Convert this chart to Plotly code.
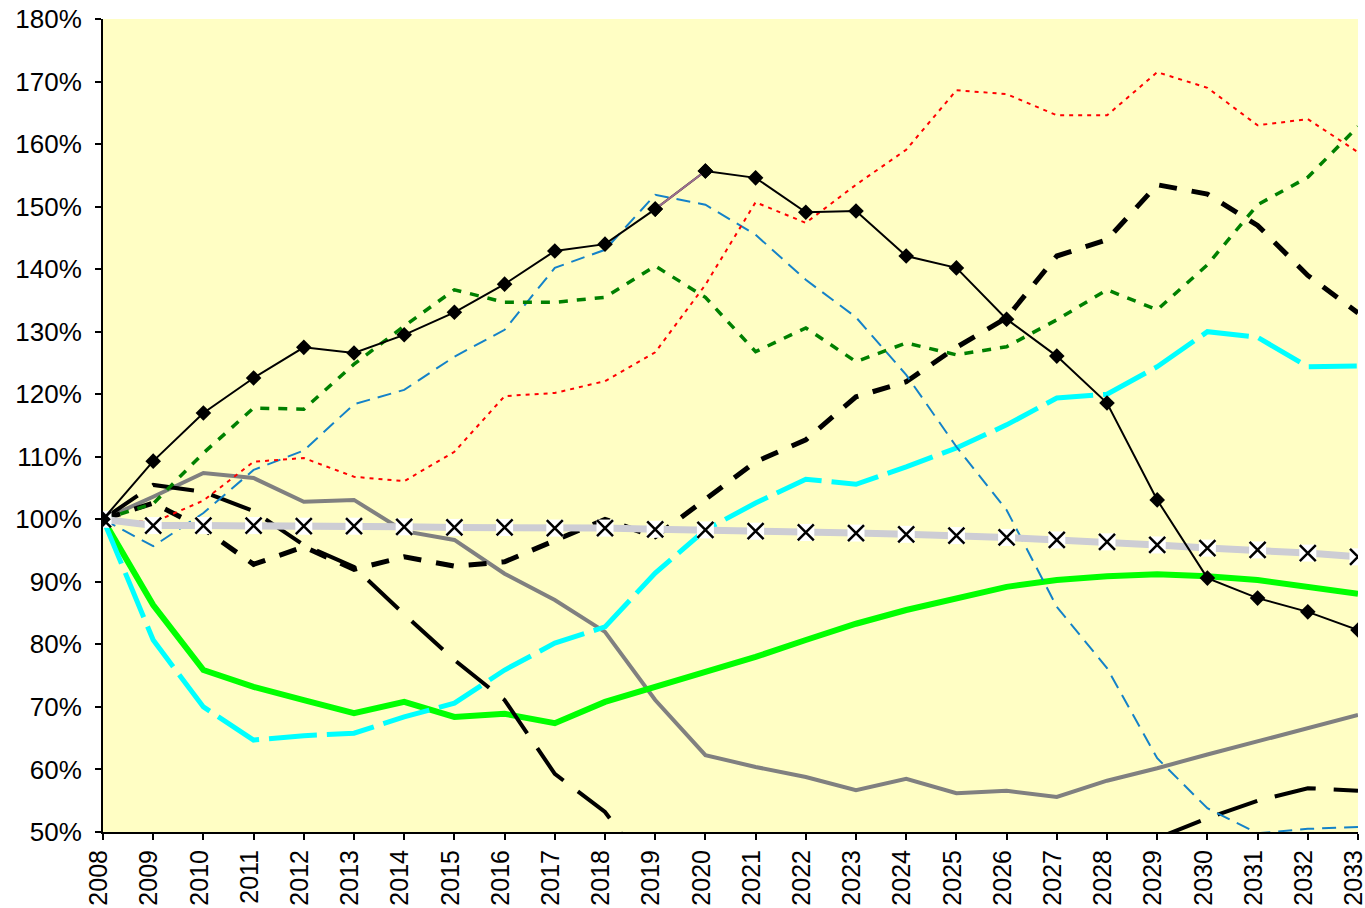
import plotly.graph_objects as go

years = [2008, 2009, 2010, 2011, 2012, 2013, 2014, 2015, 2016, 2017, 2018, 2019, 2020,
         2021, 2022, 2023, 2024, 2025, 2026, 2027, 2028, 2029, 2030, 2031, 2032, 2033]

s_diamond = [100, 109.3, 117.0, 122.6, 127.5, 126.6, 129.5, 133.1, 137.6, 142.9, 144.0, 149.6, 155.7,
             154.6, 149.1, 149.3, 142.1, 140.2, 132.0, 126.1, 118.6, 103.1, 90.6, 87.4, 85.2, 82.3]
s_green_dash = [100, 102.5, 110.6, 117.8, 117.6, 124.8, 130.9, 136.7, 134.7, 134.7, 135.5, 140.5, 135.5,
                126.8, 130.6, 125.2, 128.2, 126.3, 127.6, 131.9, 136.7, 133.5, 140.7, 150.3, 154.7, 162.8]
s_red_dot = [100, 99.5, 103.0, 109.2, 109.8, 106.8, 106.1, 110.8, 119.7, 120.2, 122.1, 126.7, 137.5,
             150.7, 147.4, 153.5, 159.1, 168.6, 168.0, 164.6, 164.6, 171.5, 169.0, 163.0, 164.0, 158.7]
s_blue_dash = [100, 95.7, 101.0, 107.9, 111.0, 118.4, 120.7, 126.0, 130.3, 140.2, 143.1, 151.9, 150.3,
               145.5, 138.3, 132.3, 123.1, 111.6, 101.5, 86.0, 76.2, 61.8, 53.8, 49.8, 50.5, 50.8]
s_cyan = [100, 80.7, 70.0, 64.7, 65.4, 65.8, 68.4, 70.6, 75.9, 80.2, 82.8, 91.4, 98.3,
          102.6, 106.4, 105.6, 108.4, 111.4, 115.1, 119.4, 120.0, 124.4, 130.0, 129.1, 124.4, 124.5]
s_green = [100, 86.3, 75.9, 73.2, 71.1, 69.0, 70.8, 68.4, 68.9, 67.4, 70.8, 73.2, 75.6,
           78.0, 80.7, 83.3, 85.5, 87.4, 89.2, 90.3, 90.9, 91.2, 90.9, 90.3, 89.3, 88.1]
s_gray = [100, 103.6, 107.4, 106.6, 102.8, 103.1, 98.1, 96.7, 91.3, 87.1, 82.0, 71.1, 62.3,
          60.4, 58.8, 56.7, 58.5, 56.2, 56.6, 55.6, 58.2, 60.2, 62.4, 64.5, 66.6, 68.7]
s_black_long = [100, 105.5, 104.4, 101.3, 95.9, 92.4, 84.8, 77.5, 71.1, 59.3, 53.2, 42.5, 38.0,
                35.0, 33.0, 32.0, 32.0, 34.0, 37.0, 41.0, 45.5, 49.0, 52.2, 55.0, 57.0, 56.6]
s_black_dash = [100, 102.6, 98.5, 92.8, 95.6, 92.0, 94.0, 92.5, 93.2, 96.7, 100.0, 97.2, 103.1,
                109.2, 112.7, 119.6, 122.0, 127.5, 132.2, 142.1, 144.7, 153.5, 152.0, 147.0, 139.0, 133.0]
s_xband = [100, 99.0, 99.0, 99.0, 98.9, 98.9, 98.8, 98.7, 98.7, 98.6, 98.6, 98.4, 98.3,
           98.1, 97.9, 97.8, 97.6, 97.4, 97.1, 96.7, 96.4, 95.9, 95.4, 95.1, 94.6, 94.0]

y_ticks = [50, 60, 70, 80, 90, 100, 110, 120, 130, 140, 150, 160, 170, 180]
y_labels = [f"{v}%" for v in y_ticks]

fig = go.Figure()

def line(y, color, width, dash="solid", name=""):
    fig.add_trace(go.Scatter(x=years, y=y, mode="lines", name=name,
                             line=dict(color=color, width=width, dash=dash)))

line(s_gray, "#808080", 4, name="gray")
line(s_green, "#00FF00", 6, name="green")
line(s_cyan, "#00FFFF", 5, "48px,10px", name="cyan")
line(s_black_long, "#000000", 4, "42px,18px", name="black long")
line(s_black_dash, "#000000", 5, "18px,15px", name="black dash")
line(s_blue_dash, "#1482C8", 2, "14px,8px", name="blue")
line(s_red_dot, "#FF0000", 2, "4px,5px", name="red")
line(s_green_dash, "#008000", 3.5, "9px,9px", name="green dash")

# gray band with X markers
fig.add_trace(go.Scatter(x=years, y=s_xband, mode="lines", name="band",
                         line=dict(color="#CDCDD4", width=7)))
fig.add_trace(go.Scatter(x=years, y=s_xband, mode="markers", name="band bg",
                         marker=dict(symbol="square", size=17, color="white", line=dict(width=0))))
fig.add_trace(go.Scatter(x=years, y=s_xband, mode="markers", name="band x",
                         marker=dict(symbol="x-thin", size=16, color="black",
                                     line=dict(color="black", width=2.5))))

# diamond line
fig.add_trace(go.Scatter(x=years, y=s_diamond, mode="lines+markers", name="diamond",
                         line=dict(color="#000000", width=2),
                         marker=dict(symbol="diamond", size=12, color="black")))
fig.add_trace(go.Scatter(x=years[11:13], y=s_diamond[11:13], mode="lines", name="seg",
                         line=dict(color="#9C6F8F", width=2)))
fig.add_trace(go.Scatter(x=years[11:13], y=s_diamond[11:13], mode="markers", name="seg m",
                         marker=dict(symbol="diamond", size=12, color="black")))

fig.update_layout(
    width=1365, height=908,
    margin=dict(l=103, r=7, t=19, b=76, autoexpand=False),
    paper_bgcolor="white",
    plot_bgcolor="#FFFEC4",
    showlegend=False,
    font=dict(family="Liberation Sans, Arial", size=26, color="black"),
)
fig.update_xaxes(range=[2008, 2033], tickmode="array", tickvals=years,
                 ticktext=[str(y) for y in years], tickangle=-90, automargin=False,
                 ticklabeloverflow="allow", ticklabelshift=-4,
                 showgrid=False, zeroline=False, showline=True, linecolor="black", linewidth=2,
                 ticks="outside", ticklen=6, tickwidth=2, tickcolor="black",
                 tickfont=dict(size=25))
fig.update_yaxes(range=[50, 180], tickmode="array", tickvals=y_ticks, ticktext=y_labels,
                 automargin=False, ticklabelstandoff=8, ticklabeloverflow="allow",
                 showgrid=False, zeroline=False, showline=True, linecolor="black", linewidth=2,
                 ticks="outside", ticklen=6, tickwidth=2, tickcolor="black",
                 tickfont=dict(size=26))

# remove the default page margin so the 1365x908 figure fills the window exactly
fig.write_html("out.html", config={"displayModeBar": False},
               post_script="document.body.style.margin='0';document.body.style.overflow='hidden';")
